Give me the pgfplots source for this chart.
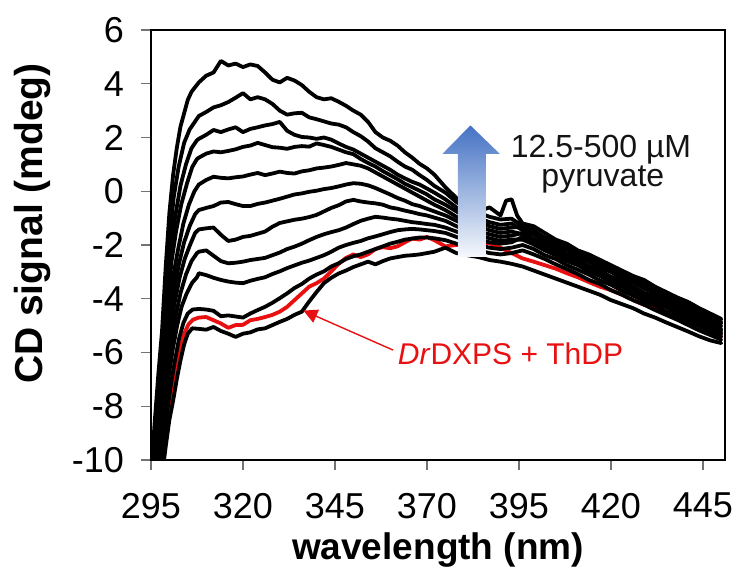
\documentclass[border=0pt]{standalone}
\usepackage{pgfplots}
\pgfplotsset{compat=1.18}
\usepackage{fontspec}
\setmainfont{Liberation Sans}
\usetikzlibrary{arrows.meta}
\definecolor{cdred}{RGB}{232,16,16}
\definecolor{arrowblue}{RGB}{68,114,196}
\definecolor{arrowwhite}{RGB}{246,248,252}
\begin{document}
\begin{tikzpicture}
\begin{axis}[
 name=ax, at={(0,0)}, anchor=south west,
 width=287pt, height=215pt, scale only axis,
 xmin=295, xmax=451, ymin=-10, ymax=6,
 xtick={295,320,345,370,395,420,445},
 ytick={-10,-8,-6,-4,-2,0,2,4,6},
 xticklabels={295,320,345,370,395,420,445},
 yticklabels={-10,-8,-6,-4,-2,0,2,4,6},
 tick align=outside, tick pos=left,
 major tick length=5pt,
 tick style={black!55, line width=0.6pt},
 axis line style={line width=0.9pt},
 ticklabel style={font=\fontsize{18}{20}\selectfont},
 xticklabel style={yshift=-8pt},
 yticklabel style={xshift=-5pt},
 xlabel={wavelength (nm)}, ylabel={CD signal (mdeg)},
 xlabel style={at={(axis description cs:0.5,-0.2093)}, anchor=center, font=\bfseries\fontsize{18.5}{20}\selectfont},
 ylabel style={at={(axis description cs:-0.2056,0.55)}, anchor=center, font=\bfseries\fontsize{19.5}{20}\selectfont},
 every axis plot/.append style={line width=1.9pt, line join=round, line cap=round, mark=none},
]
% red: DrDXPS + ThDP
\addplot[cdred] coordinates {(297.7,-10.6)(298.7,-9.4)(299.7,-8.4)(300.7,-7.5)(301.8,-6.6)(302.9,-5.9)(304,-5.3)(305.2,-4.95)(306.4,-4.78)
(308,-4.7)(310,-4.68)(312,-4.8)(314,-4.92)(316,-5.08)(318,-4.98)(320,-4.97)(322,-4.8)(324,-4.75)(326,-4.68)(328,-4.6)(330,-4.48)(332,-4.3)(334,-4.05)(336,-3.8)(338,-3.55)(340,-3.42)(342,-3.25)(344,-2.98)(346,-2.7)(348,-2.48)(350,-2.35)(352,-2.45)(354,-2.35)(356,-2.15)(358,-2.08)(360,-2.12)(362,-2.05)(364,-1.9)(366,-1.76)(368,-1.8)(370,-1.7)(372,-1.82)(375,-2.05)(378,-2.0)(381,-1.95)(384,-1.9)(387,-1.94)(390,-2.1)(393,-2.3)(396,-2.5)(399,-2.62)(402,-2.75)(405,-2.88)(408,-3.05)(411,-3.2)(414,-3.38)(417,-3.55)(420,-3.68)(423,-3.85)(426,-4.05)(429,-4.22)(432,-4.38)(435,-4.55)(438,-4.75)(441,-4.9)(444,-5.08)(447,-5.25)(450,-5.4)};
% C1
\addplot[black] coordinates {(295,-10.6)(296,-8.6)(297,-6.8)(298,-5.2)(299,-2.8)(300,-0.8)(301,0.6)(302,1.6)(303,2.4)(304,2.9)(305,3.4)(306,3.7)
(308,4.05)(310,4.3)(312,4.42)(314,4.85)(316,4.68)(318,4.75)(320,4.62)(322,4.72)(324,4.66)(326,4.42)(328,4.15)(330,4.05)(332,4.22)(334,4.12)(336,3.95)(338,3.7)(340,3.5)(342,3.42)(344,3.46)(346,3.33)(348,3.18)(350,3.0)(352,2.85)(354,2.58)(356,2.2)(358,2.0)(360,1.88)(362,1.7)(364,1.45)(366,1.25)(368,1.02)(370,0.85)(372,0.62)(375,0.15)(378,-0.25)(381,-0.55)(384,-0.8)(387,-0.95)(390,-1.05)
(393,-1.02)(396,-1.3)(399,-1.45)(402,-1.72)(405,-1.85)(408,-2.1)(411,-2.25)(414,-2.5)(417,-2.62)(420,-2.9)(423,-3.05)(426,-3.25)(429,-3.45)(432,-3.62)(435,-3.85)(438,-4.0)(441,-4.25)(444,-4.4)(447,-4.62)(450,-4.85)};
% C2
\addplot[black] coordinates {(295.2,-10.6)(296.2,-8.6)(297.2,-6.9)(298.2,-5.3)(299.2,-3.3)(300.2,-1.5)(301.2,-0.2)(302.5,0.9)(304,1.8)(305.5,2.3)(307,2.6)
(308,2.8)(310,2.95)(312,3.12)(314,3.2)(316,3.32)(318,3.48)(320,3.65)(322,3.42)(324,3.5)(326,3.42)(328,3.25)(330,3.0)(332,2.85)(334,2.9)(336,2.92)(338,2.75)(340,2.68)(342,2.6)(344,2.52)(346,2.48)(348,2.38)(350,2.2)(352,2.05)(354,1.85)(356,1.6)(358,1.45)(360,1.3)(362,1.1)(364,0.92)(366,0.8)(368,0.6)(370,0.42)(372,0.2)(375,-0.05)(378,-0.4)(381,-0.65)(384,-0.75)(387,-0.6)(390,-0.9)(391.5,-0.35)(393,-0.3)(394.5,-0.9)
(396,-1.2)(399,-1.3)(402,-1.55)(405,-1.8)(408,-1.95)(411,-2.2)(414,-2.35)(417,-2.55)(420,-2.75)(423,-2.95)(426,-3.15)(429,-3.3)(432,-3.55)(435,-3.75)(438,-3.95)(441,-4.12)(444,-4.35)(447,-4.55)(450,-4.75)};
% C3
\addplot[black] coordinates {(295.4,-10.6)(296.4,-8.7)(297.4,-7.0)(298.4,-5.4)(299.4,-3.7)(300.4,-2.2)(301.5,-1.0)(303,0.2)(304.5,1.0)(306,1.6)(307.5,1.9)
(308,1.95)(310,2.1)(312,2.28)(314,2.2)(316,2.3)(318,2.38)(320,2.2)(322,2.32)(324,2.38)(326,2.45)(328,2.5)(330,2.58)(332,2.25)(334,2.1)(336,2.02)(338,2.0)(340,1.95)(342,2.0)(344,1.92)(346,1.78)(348,1.65)(350,1.55)(352,1.4)(354,1.25)(356,1.1)(358,0.95)(360,0.8)(362,0.62)(364,0.48)(366,0.35)(368,0.25)(370,0.1)(372,-0.05)(375,-0.3)(378,-0.6)(381,-0.85)(384,-1.0)(387,-1.15)(390,-1.25)(393,-1.2)
(396,-1.45)(399,-1.62)(402,-1.85)(405,-2.05)(408,-2.3)(411,-2.45)(414,-2.62)(417,-2.85)(420,-3.0)(423,-3.25)(426,-3.4)(429,-3.62)(432,-3.8)(435,-4.02)(438,-4.2)(441,-4.38)(444,-4.6)(447,-4.78)(450,-5.0)};
% C4
\addplot[black] coordinates {(295.6,-10.6)(296.6,-8.8)(297.6,-7.1)(298.6,-5.5)(299.6,-4.0)(300.6,-2.6)(301.8,-1.5)(303.2,-0.5)(304.8,0.3)(306.2,0.9)(307.5,1.2)
(308,1.25)(310,1.4)(312,1.48)(314,1.45)(316,1.5)(318,1.56)(320,1.65)(322,1.7)(324,1.8)(326,1.72)(328,1.64)(330,1.62)(332,1.58)(334,1.65)(336,1.68)(338,1.66)(340,1.78)(342,1.72)(344,1.65)(346,1.55)(348,1.45)(350,1.38)(352,1.2)(354,1.05)(356,0.92)(358,0.75)(360,0.6)(362,0.45)(364,0.28)(366,0.15)(368,0.02)(370,-0.12)(372,-0.3)(375,-0.5)(378,-0.75)(381,-1.0)(384,-1.1)(387,-1.3)(390,-1.4)(393,-1.35)
(396,-1.32)(399,-1.55)(402,-1.72)(405,-1.98)(408,-2.15)(411,-2.35)(414,-2.58)(417,-2.72)(420,-2.95)(423,-3.12)(426,-3.35)(429,-3.5)(432,-3.72)(435,-3.9)(438,-4.12)(441,-4.3)(444,-4.5)(447,-4.72)(450,-4.9)};
% C5
\addplot[black] coordinates {(295.8,-10.6)(296.8,-8.9)(297.8,-7.2)(298.8,-5.7)(299.8,-4.4)(301,-3.2)(302.3,-2.2)(303.8,-1.2)(305.3,-0.5)(306.8,0.0)
(308,0.25)(310,0.42)(312,0.54)(314,0.5)(316,0.48)(318,0.52)(320,0.55)(322,0.62)(324,0.68)(326,0.6)(328,0.66)(330,0.73)(332,0.68)(334,0.66)(336,0.74)(338,0.78)(340,0.85)(342,0.88)(344,0.92)(346,0.98)(348,1.05)(350,1.0)(352,0.95)(354,0.85)(356,0.7)(358,0.55)(360,0.4)(362,0.25)(364,0.1)(366,-0.05)(368,-0.2)(370,-0.35)(372,-0.5)(375,-0.7)(378,-0.95)(381,-1.1)(384,-1.3)(387,-1.45)(390,-1.55)(393,-1.5)
(396,-1.6)(399,-1.8)(402,-2.05)(405,-2.2)(408,-2.45)(411,-2.62)(414,-2.8)(417,-3.05)(420,-3.2)(423,-3.42)(426,-3.6)(429,-3.8)(432,-4.0)(435,-4.2)(438,-4.38)(441,-4.6)(444,-4.78)(447,-4.98)(450,-5.18)};
% C6
\addplot[black] coordinates {(296,-10.6)(297,-9.0)(298,-7.4)(299,-6.0)(300,-4.8)(301.2,-3.7)(302.6,-2.7)(304,-1.9)(305.5,-1.3)(307,-0.85)
(308,-0.7)(310,-0.62)(312,-0.55)(314,-0.42)(316,-0.4)(318,-0.48)(320,-0.55)(322,-0.55)(324,-0.47)(326,-0.42)(328,-0.35)(330,-0.28)(332,-0.2)(334,-0.12)(336,-0.08)(338,-0.02)(340,0.02)(342,0.08)(344,0.12)(346,0.18)(348,0.25)(350,0.3)(352,0.28)(354,0.22)(356,0.12)(358,0.0)(360,-0.12)(362,-0.25)(364,-0.35)(366,-0.48)(368,-0.55)(370,-0.65)(372,-0.75)(375,-0.9)(378,-1.1)(381,-1.3)(384,-1.5)(387,-1.6)(390,-1.7)(393,-1.65)
(396,-1.55)(399,-1.78)(402,-1.95)(405,-2.2)(408,-2.38)(411,-2.55)(414,-2.78)(417,-2.95)(420,-3.18)(423,-3.35)(426,-3.55)(429,-3.78)(432,-3.92)(435,-4.15)(438,-4.32)(441,-4.52)(444,-4.72)(447,-4.9)(450,-5.12)};
% C7
\addplot[black] coordinates {(296.2,-10.6)(297.2,-9.1)(298.2,-7.6)(299.2,-6.3)(300.3,-5.1)(301.5,-4.1)(302.8,-3.2)(304.2,-2.5)(305.6,-2.0)(307,-1.55)
(308,-1.42)(310,-1.38)(312,-1.35)(314,-1.62)(316,-1.85)(318,-1.8)(320,-1.7)(322,-1.66)(324,-1.58)(326,-1.5)(328,-1.32)(330,-1.18)(332,-1.12)(334,-1.06)(336,-1.02)(338,-0.96)(340,-0.88)(342,-0.75)(344,-0.62)(346,-0.52)(348,-0.38)(350,-0.32)(352,-0.38)(354,-0.42)(356,-0.45)(358,-0.5)(360,-0.6)(362,-0.65)(364,-0.72)(366,-0.78)(368,-0.85)(370,-0.9)(372,-0.98)(375,-1.1)(378,-1.3)(381,-1.5)(384,-1.65)(387,-1.75)(390,-1.85)(393,-1.8)
(396,-1.8)(399,-1.98)(402,-2.2)(405,-2.38)(408,-2.6)(411,-2.75)(414,-2.98)(417,-3.15)(420,-3.38)(423,-3.55)(426,-3.75)(429,-3.95)(432,-4.15)(435,-4.32)(438,-4.55)(441,-4.72)(444,-4.9)(447,-5.12)(450,-5.3)};
% C8
\addplot[black] coordinates {(296.5,-10.6)(297.5,-9.2)(298.5,-7.8)(299.5,-6.6)(300.6,-5.5)(301.8,-4.6)(303,-3.8)(304.5,-3.1)(306,-2.6)(307.5,-2.3)
(308,-2.25)(310,-2.2)(312,-2.4)(314,-2.6)(316,-2.68)(318,-2.66)(320,-2.62)(322,-2.56)(324,-2.52)(326,-2.48)(328,-2.38)(330,-2.28)(332,-2.15)(334,-2.06)(336,-1.95)(338,-1.82)(340,-1.7)(342,-1.6)(344,-1.52)(346,-1.45)(348,-1.35)(350,-1.22)(352,-1.1)(354,-1.02)(356,-0.95)(358,-0.98)(360,-1.02)(362,-1.05)(364,-1.1)(366,-1.15)(368,-1.18)(370,-1.22)(372,-1.25)(375,-1.35)(378,-1.5)(381,-1.65)(384,-1.8)(387,-1.9)(390,-1.95)(393,-1.9)
(396,-1.7)(399,-1.95)(402,-2.1)(405,-2.35)(408,-2.5)(411,-2.72)(414,-2.9)(417,-3.1)(420,-3.3)(423,-3.5)(426,-3.7)(429,-3.88)(432,-4.1)(435,-4.28)(438,-4.48)(441,-4.68)(444,-4.85)(447,-5.05)(450,-5.25)};
% C9
\addplot[black] coordinates {(296.8,-10.6)(297.8,-9.3)(298.8,-8.0)(299.8,-6.9)(300.9,-5.9)(302.1,-5.0)(303.3,-4.3)(304.7,-3.8)(306.2,-3.4)(307.5,-3.2)
(308,-3.05)(310,-3.12)(312,-3.22)(314,-3.3)(316,-3.36)(318,-3.4)(320,-3.42)(322,-3.33)(324,-3.26)(326,-3.2)(328,-3.08)(330,-2.98)(332,-2.86)(334,-2.76)(336,-2.66)(338,-2.58)(340,-2.48)(342,-2.38)(344,-2.25)(346,-2.1)(348,-2.0)(350,-1.92)(352,-1.85)(354,-1.75)(356,-1.68)(358,-1.6)(360,-1.52)(362,-1.45)(364,-1.42)(366,-1.4)(368,-1.42)(370,-1.45)(372,-1.48)(375,-1.55)(378,-1.7)(381,-1.85)(384,-2.0)(387,-2.1)(390,-2.15)(393,-2.1)
(396,-2.0)(399,-2.15)(402,-2.38)(405,-2.52)(408,-2.75)(411,-2.92)(414,-3.1)(417,-3.32)(420,-3.48)(423,-3.7)(426,-3.88)(429,-4.08)(432,-4.25)(435,-4.48)(438,-4.65)(441,-4.85)(444,-5.02)(447,-5.22)(450,-5.4)};
% C10
\addplot[black] coordinates {(297.4,-10.6)(298.4,-9.3)(299.4,-8.2)(300.4,-7.2)(301.5,-6.3)(302.6,-5.5)(303.8,-4.9)(305,-4.55)(306.3,-4.4)
(308,-4.38)(310,-4.4)(312,-4.45)(314,-4.65)(316,-4.62)(318,-4.66)(320,-4.7)(322,-4.55)(324,-4.42)(326,-4.3)(328,-4.15)(330,-3.98)(332,-3.8)(334,-3.6)(336,-3.45)(338,-3.25)(340,-3.1)(342,-2.98)(344,-2.8)(346,-2.68)(348,-2.52)(350,-2.42)(352,-2.35)(354,-2.25)(356,-2.15)(358,-2.05)(360,-1.95)(362,-1.88)(364,-1.8)(366,-1.76)(368,-1.72)(370,-1.72)(372,-1.75)(375,-1.82)(378,-1.95)(381,-2.1)(384,-2.2)(387,-2.3)(390,-2.35)(393,-2.3)
(396,-2.2)(399,-2.35)(402,-2.52)(405,-2.72)(408,-2.9)(411,-3.08)(414,-3.3)(417,-3.45)(420,-3.68)(423,-3.85)(426,-4.05)(429,-4.22)(432,-4.42)(435,-4.6)(438,-4.78)(441,-4.98)(444,-5.18)(447,-5.35)(450,-5.52)};
% C11
\addplot[black] coordinates {(298,-10.6)(299,-9.5)(300,-8.5)(301,-7.8)(302,-7.0)(303,-6.3)(304,-5.7)(305,-5.3)(306.2,-5.1)
(308,-5.12)(310,-5.15)(312,-5.05)(314,-5.2)(316,-5.3)(318,-5.42)(320,-5.3)(322,-5.25)(324,-5.14)(326,-5.1)(328,-4.98)(330,-4.86)(332,-4.75)(334,-4.6)(336,-4.48)(338,-4.1)(340,-3.75)(342,-3.42)(344,-3.22)(346,-3.06)(348,-2.95)(350,-2.82)(352,-2.72)(354,-2.62)(356,-2.72)(358,-2.6)(360,-2.5)(362,-2.45)(364,-2.4)(366,-2.38)(368,-2.35)(370,-2.3)(372,-2.25)(375,-2.1)(378,-2.3)(381,-2.38)(384,-2.45)(387,-2.56)(390,-2.62)(393,-2.7)
(396,-2.8)(399,-2.95)(402,-3.1)(405,-3.25)(408,-3.4)(411,-3.55)(414,-3.7)(417,-3.85)(420,-4.05)(423,-4.2)(426,-4.35)(429,-4.55)(432,-4.7)(435,-4.88)(438,-5.05)(441,-5.22)(444,-5.4)(447,-5.55)(450,-5.65)};
% gradient arrow
\shade[top color=arrowblue, bottom color=arrowwhite] (axis cs:381.8,2.45) -- (axis cs:389.8,1.39) -- (axis cs:386.0,1.39) -- (axis cs:386.0,-2.44) -- (axis cs:378.4,-2.44) -- (axis cs:378.4,1.39) -- (axis cs:374.2,1.39) -- cycle;
\node[anchor=base, inner sep=0pt, font=\fontsize{16}{18}\selectfont, text=black!92] at (axis cs:417.3,1.27) {12.5-500 µM};
\node[anchor=base, inner sep=0pt, font=\fontsize{16}{18}\selectfont, text=black!92] at (axis cs:417.8,0.17) {pyruvate};
\draw[cdred, line width=0.7pt, -{Triangle[length=7pt,width=7pt]}] (axis cs:360.8,-5.91) -- (axis cs:336.4,-4.44);
\node[anchor=base, font=\fontsize{15}{16}\selectfont, text=cdred] at (axis cs:392.7,-6.43) {\textit{Dr}DXPS + ThDP};
\end{axis}
\pgfresetboundingbox
\path (-75.5pt,-57pt) rectangle (293.5pt,230pt);
\end{tikzpicture}
\end{document}
